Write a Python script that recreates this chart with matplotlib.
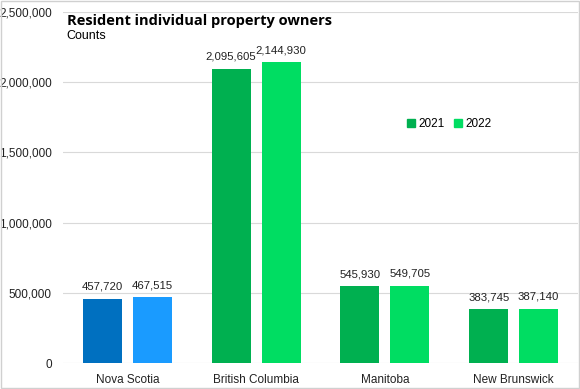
import numpy as np
import matplotlib.pyplot as plt
from matplotlib.patches import Patch, Rectangle

# данные
provinces = ['Nova Scotia', 'British Columbia', 'Manitoba', 'New Brunswick']
owners_2021 = [457720, 2095605, 545930, 383745]
owners_2022 = [467515, 2144930, 549705, 387140]
colors_2021 = ['#0070C0', '#00B050', '#00B050', '#00B050']
colors_2022 = ['#1A9BFF', '#00DD62', '#00DD62', '#00DD62']
y_ticks = [0, 500000, 1000000, 1500000, 2000000, 2500000]

plt.rcParams['font.family'] = ['Liberation Sans', 'DejaVu Sans']

fig = plt.figure(figsize=(5.8, 3.89), dpi=100)
ax = fig.add_axes([0.1086, 0.0668, 0.888, 0.902])

x = np.arange(len(provinces))
w = 0.303
off = 0.194
b1 = ax.bar(x - off, owners_2021, w, color=colors_2021, zorder=3)
b2 = ax.bar(x + off, owners_2022, w, color=colors_2022, zorder=3)

for bars, vals in ((b1, owners_2021), (b2, owners_2022)):
    for rect, v in zip(bars, vals):
        ax.annotate(f'{v:,}', (rect.get_x() + rect.get_width() / 2, v),
                    xytext=(0, 5), textcoords='offset points',
                    ha='center', va='bottom', fontsize=8.2, color='#222222')

ax.set_xlim(-0.5, 3.5)
ax.set_ylim(0, 2500000)
ax.set_yticks(y_ticks)
ax.set_yticklabels([f'{t:,}' for t in y_ticks])
ax.set_xticks(x)
ax.set_xticklabels(provinces)
ax.tick_params(axis='both', length=0, labelsize=8.5, colors='#222222')
ax.tick_params(axis='y', pad=8)
ax.tick_params(axis='x', pad=8)
ax.grid(axis='y', color='#D9D9D9', linewidth=0.8, zorder=0)
for s in ax.spines.values():
    s.set_visible(False)

handles = [Patch(color='#00B050', label='2021'), Patch(color='#00DD62', label='2022')]
ax.legend(handles=handles, loc='center', bbox_to_anchor=(0.75, 0.68), ncol=2,
          frameon=False, fontsize=8.5, handlelength=0.7, handleheight=0.7,
          handletextpad=0.3, columnspacing=0.8)

fig.text(0.115, 0.947, 'Resident individual property owners', fontsize=10.5,
         fontweight='bold', ha='left', va='center', family=['Open Sans', 'DejaVu Sans'])
fig.text(0.115, 0.908, 'Counts', fontsize=9, ha='left', va='center')

fig.patches.append(Rectangle((0.002, 0.003), 0.996, 0.994, transform=fig.transFigure,
                             fill=False, edgecolor='#D0D0D0', linewidth=1))

fig.savefig('out.png', dpi=100)
